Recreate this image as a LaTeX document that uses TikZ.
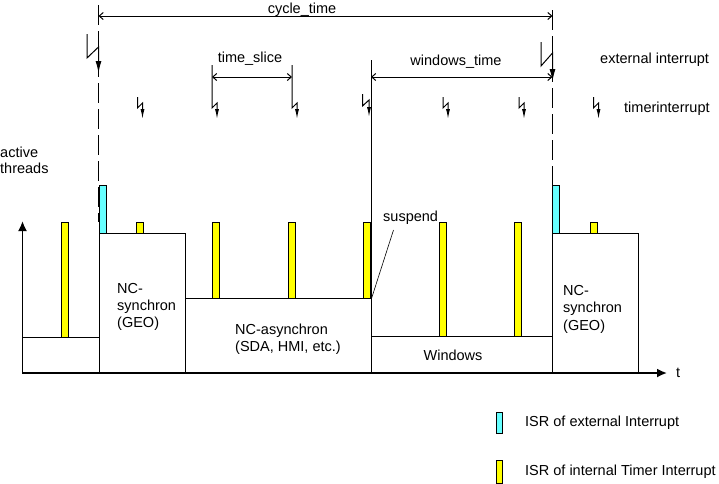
\documentclass[tikz,border=0pt]{standalone}
\usepackage{fontspec}
\setmainfont{Liberation Sans}
\usetikzlibrary{arrows.meta}
\definecolor{isrcyan}{RGB}{102,255,255}
\definecolor{isryellow}{RGB}{255,255,0}
\begin{document}
\begin{tikzpicture}[x=1pt,y=-1pt,
  font=\fontsize{14.5}{16.5}\selectfont,
  box/.style={draw=black, line width=1pt, fill=white},
  ybar/.style={draw=black, line width=1pt, fill=isryellow},
  cbar/.style={draw=black, line width=1pt, fill=isrcyan},
  lbl/.style={inner sep=0pt, anchor=base west},
  clbl/.style={inner sep=0pt, anchor=base},
  dimline/.style={line width=1pt, {Straight Barb[length=4pt,width=7pt]}-{Straight Barb[length=4pt,width=7pt]}},
  bolt/.style={line width=1pt, -{Latex[length=10pt,width=4pt]}},
  extbolt/.style={line width=1pt, -{Latex[length=12pt,width=6pt]}},
  axisline/.style={line width=1.8pt, -{Latex[length=10pt,width=9pt]}},
  guide/.style={line width=1pt, dash pattern=on 20pt off 6pt}
]
\useasboundingbox (0,0) rectangle (719,483);

% thread boxes
\draw[box] (22.5,337) rectangle (99,373);
\draw[box] (99,233.5) rectangle (185.5,373);
\draw[box] (185.5,298.5) rectangle (371,373);
\draw[box] (371,336.5) rectangle (552.5,373);
\draw[box] (552.5,233.5) rectangle (638,373);

% ISR bars
\draw[ybar] (61.5,222.5) rectangle (68.5,337);
\draw[cbar] (99,185) rectangle (106.5,233.5);
\draw[ybar] (136.5,222.5) rectangle (143.5,233.5);
\draw[ybar] (212.5,222.5) rectangle (219.5,298.5);
\draw[ybar] (288.5,222.5) rectangle (295.5,298.5);
\draw[ybar] (363.5,222.5) rectangle (370.5,298.5);
\draw[ybar] (439.5,222.5) rectangle (446.5,336.5);
\draw[ybar] (514.5,222.5) rectangle (521.5,336.5);
\draw[cbar] (552.5,185) rectangle (559.5,233.5);
\draw[ybar] (590.5,222.5) rectangle (597.5,233.5);

% axes
\coordinate (origin) at (22.5,373);
\coordinate (yend) at (22.5,221);
\coordinate (xend) at (667,373);
\draw[axisline] (origin) -- (yend);
\draw[axisline] (origin) -- (xend);

% guide lines
\coordinate (g1top) at (98.5,5);
\coordinate (g1bot) at (98.5,222);
\coordinate (g2top) at (552.5,10);
\coordinate (g2bot) at (552.5,233);
\draw[guide] (g1top) -- (g1bot);
\draw[guide] (g2top) -- (g2bot);
\coordinate (wtop) at (371,60);
\coordinate (wbot) at (371,337);
\draw[line width=1pt] (wtop) -- (wbot);

% dimension arrows
\coordinate (ctL) at (98.5,16);
\coordinate (ctR) at (552.5,16);
\draw[dimline] (ctL) -- (ctR);
\coordinate (tsL) at (212,77);
\coordinate (tsR) at (292,77);
\draw[dimline] (tsL) -- (tsR);
\coordinate (wtL) at (371,77);
\coordinate (wtR) at (552.5,77);
\draw[dimline] (wtL) -- (wtR);

% interrupts (lightning)
\draw[extbolt] (87,34) -- (87,58) -- (98.5,47) -- (98.5,73);
\draw[extbolt] (541,42) -- (541,66) -- (552.5,53) -- (552.5,81);
\foreach \L in {137.5,443,519,593.5}
  \draw[bolt] (\L,97) -- (\L,108) -- (\L+5,103) -- (\L+5,119);
\draw[bolt] (212,65) -- (212,108) -- (217,103) -- (217,119);
\draw[bolt] (292,65) -- (292,108) -- (297,103) -- (297,119);
\draw[bolt] (362.5,94) -- (362.5,106) -- (369,100) -- (369,117);

% suspend
\node[lbl] (susp) at (383,221) {suspend};
\coordinate (suspA) at (393.5,230);
\coordinate (suspB) at (371.5,298.5);
\draw[line width=0.6pt] (suspA) -- (suspB);

% labels
\node[clbl] (ct) at (302,13) {cycle\_time};
\node[clbl] (ts) at (250,62) {time\_slice};
\node[clbl] (wt) at (456,65) {windows\_time};
\node[lbl] (ei) at (600,63) {external interrupt};
\node[lbl] (ti) at (624,112) {timerinterrupt};
\node[lbl] (act1) at (0,157) {active};
\node[lbl] (act2) at (0,173) {threads};
\node[lbl] (nc1a) at (117,293) {NC-};
\node[lbl] (nc1b) at (117,310) {synchron};
\node[lbl] (nc1c) at (117,327) {(GEO)};
\node[lbl] (nc2a) at (563,295) {NC-};
\node[lbl] (nc2b) at (563,312) {synchron};
\node[lbl] (nc2c) at (563,330) {(GEO)};
\node[lbl] (asy1) at (235,334) {NC-asynchron};
\node[lbl] (asy2) at (235,351) {(SDA, HMI, etc.)};
\node[clbl] (win) at (453,360) {Windows};
\node[lbl] (tlab) at (676,377) {t};

% legend
\draw[cbar] (496,412) rectangle (502.5,433);
\draw[ybar] (496,460) rectangle (502.5,483.5);
\node[lbl] (leg1) at (525,426) {ISR of external Interrupt};
\node[lbl] (leg2) at (525,475) {ISR of internal Timer Interrupt};
\end{tikzpicture}
\end{document}
